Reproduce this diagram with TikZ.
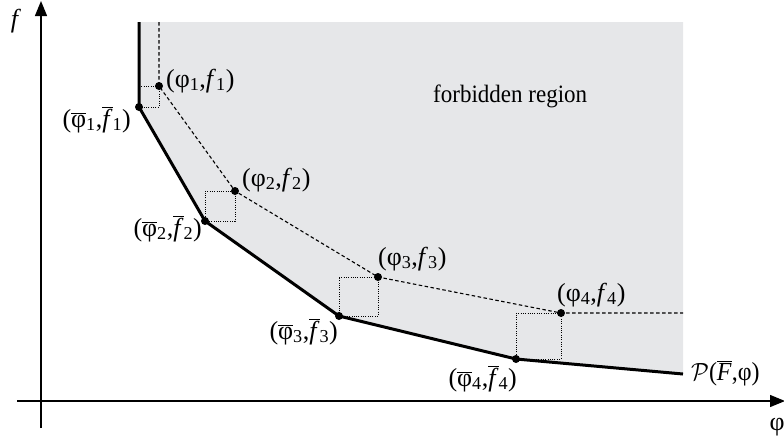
\documentclass[tikz,border=0pt]{standalone}
\usepackage{fontspec}
\setmainfont{Liberation Serif}
\usetikzlibrary{arrows.meta}
\definecolor{regiongray}{RGB}{230,231,233}
\newcommand{\ob}[1]{\ensuremath{\overline{\hbox{#1}}}}
\newcommand{\sbx}[1]{\textsubscript{#1}}
\newcommand{\sq}[1]{\scalebox{0.92}[1]{#1}}
\begin{document}
\begin{tikzpicture}[x=1pt,y=-1pt,
  font=\fontsize{26}{30}\selectfont,
  axis/.style={line width=1.3pt, -{Triangle[length=15pt,width=12pt]}},
  frontier/.style={line width=3pt, line join=miter},
  guide/.style={line width=1.1pt, dash pattern=on 3.5pt off 2.5pt},
  boxln/.style={line width=1pt, dash pattern=on 1pt off 1.3pt},
  dot/.style={circle, fill=black, inner sep=0pt, minimum size=8pt},
  lbl/.style={inner sep=0pt}]
\useasboundingbox (0,0) rectangle (784,440);
% key points
\coordinate (top) at (139,22);
\coordinate (b1) at (139,107);
\coordinate (b2) at (205,221);
\coordinate (b3) at (339,316);
\coordinate (b4) at (516,359);
\coordinate (end) at (683,374);
\coordinate (tr) at (683,22);
\coordinate (ptop) at (159,22);
\coordinate (p1) at (159,86);
\coordinate (p2) at (235,191);
\coordinate (p3) at (378,277);
\coordinate (p4) at (561,313);
\coordinate (pend) at (683,313);
% region
\fill[regiongray] (top) -- (tr) -- (end) -- (b4) -- (b3) -- (b2) -- (b1) -- cycle;
% dotted boxes
\draw[boxln] (b1 |- p1) -- (p1) -- (p1 |- b1) -- (b1);
\draw[boxln] (b2 |- p2) -- (p2) -- (p2 |- b2) -- (b2) -- cycle;
\draw[boxln] (b3 |- p3) -- (p3) -- (p3 |- b3) -- (b3) -- cycle;
\draw[boxln] (b4 |- p4) -- (p4) -- (p4 |- b4) -- (b4) -- cycle;
% dashed guide
\draw[guide] (ptop) -- (p1) -- (p2) -- (p3) -- (p4) -- (pend);
% frontier
\draw[frontier] (top) -- (b1) -- (b2) -- (b3) -- (b4) -- (end);
% dots
\foreach \n in {b1,b2,b3,b4,p1,p2,p3,p4} \node[dot] (d\n) at (\n) {};
% labels
\node[lbl, anchor=base west] (lp1) at (166,87) {(φ\sbx{1},\textit{f}\sbx{1})};
\node[lbl, anchor=base east] (lb1) at (131,127) {(\ob{φ}\sbx{1},\ob{\textit{f}}\sbx{1})};
\node[lbl, anchor=base west] (lp2) at (242,186) {(φ\sbx{2},\textit{f}\sbx{2})};
\node[lbl, anchor=base east] (lb2) at (202,236) {(\ob{φ}\sbx{2},\ob{\textit{f}}\sbx{2})};
\node[lbl, anchor=base west] (lp3) at (378,265) {(φ\sbx{3},\textit{f}\sbx{3})};
\node[lbl, anchor=base east] (lb3) at (338,339) {(\ob{φ}\sbx{3},\ob{\textit{f}}\sbx{3})};
\node[lbl, anchor=base west] (lp4) at (557,301) {(φ\sbx{4},\textit{f}\sbx{4})};
\node[lbl, anchor=base east] (lb4) at (517,386) {(\ob{φ}\sbx{4},\ob{\textit{f}}\sbx{4})};
\node[lbl, anchor=base west] (lP) at (691,380) {\sq{$\mathcal{P}$(\ob{\textit{F}},φ)}};
\node[lbl, anchor=base west, font=\fontsize{25}{30}\selectfont] (forb) at (433,102) {\sq{forbidden region}};
% axes
\coordinate (yb) at (41,428);
\coordinate (yt) at (41,1);
\coordinate (xl) at (17,401);
\coordinate (xr) at (785,401);
\draw[axis] (yb) -- (yt);
\draw[axis] (xl) -- (xr);
\node[lbl, anchor=base] (fl) at (16,27) {\textit{f}};
\node[lbl, anchor=base] (phil) at (777,430) {φ};
\end{tikzpicture}
\end{document}
